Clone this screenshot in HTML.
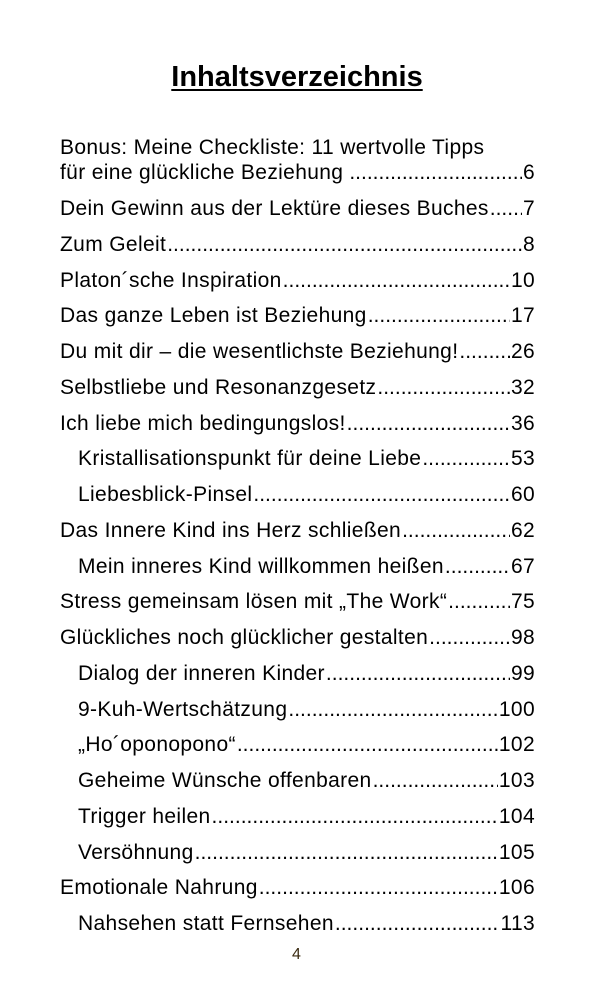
<!DOCTYPE html>
<html><head><meta charset="utf-8"><style>
body{margin:0;width:610px;height:1003px;background:#fff;position:relative;font-family:"Liberation Sans",Arial,sans-serif;color:#000;overflow:hidden}
.t{position:absolute;top:61px;left:0;width:594px;text-align:center;font-weight:bold;font-size:29px;text-decoration:underline;text-decoration-thickness:2px;text-underline-offset:3px}
.l{position:absolute;right:75px;display:flex;font-size:21px;letter-spacing:0.35px;line-height:24px;white-space:nowrap}
.l .d{flex:1;overflow:hidden;margin:0 1px;letter-spacing:0}
.l .d::before{content:"..............................................................................................................................................";}
.p{position:absolute;top:946px;left:292px;font-size:16px;color:#3a2a10}
</style></head><body>
<div class="t">Inhaltsverzeichnis</div>
<div class="l" style="top:136px;left:60px">Bonus: Meine Checkliste: 11 wertvolle Tipps</div>
<div class="l" style="top:161px;left:60px"><span>für eine glückliche Beziehung</span><span class="d" style="margin-left:6px"></span><span>6</span></div>
<div id="c"></div>
<div class="p">4</div>
<script>
var e=[[0,"Dein Gewinn aus der Lektüre dieses Buches","7"],[0,"Zum Geleit","8"],[0,"Platon´sche Inspiration","10"],[0,"Das ganze Leben ist Beziehung","17"],[0,"Du mit dir – die wesentlichste Beziehung!","26"],[0,"Selbstliebe und Resonanzgesetz","32"],[0,"Ich liebe mich bedingungslos!","36"],[1,"Kristallisationspunkt für deine Liebe","53"],[1,"Liebesblick-Pinsel","60"],[0,"Das Innere Kind ins Herz schließen","62"],[1,"Mein inneres Kind willkommen heißen","67"],[0,"Stress gemeinsam lösen mit „The Work“","75"],[0,"Glückliches noch glücklicher gestalten","98"],[1,"Dialog der inneren Kinder","99"],[1,"9-Kuh-Wertschätzung","100"],[1,"„Ho´oponopono“","102"],[1,"Geheime Wünsche offenbaren","103"],[1,"Trigger heilen","104"],[1,"Versöhnung","105"],[0,"Emotionale Nahrung","106"],[1,"Nahsehen statt Fernsehen","113"]];
var h="";
e.forEach(function(x,i){var top=197+i*35.75;h+='<div class="l" style="top:'+top.toFixed(1)+'px;left:'+(x[0]?78:60)+'px"><span>'+x[1]+'</span><span class="d"></span><span>'+x[2]+'</span></div>';});
document.getElementById("c").innerHTML=h;
</script>
</body></html>
